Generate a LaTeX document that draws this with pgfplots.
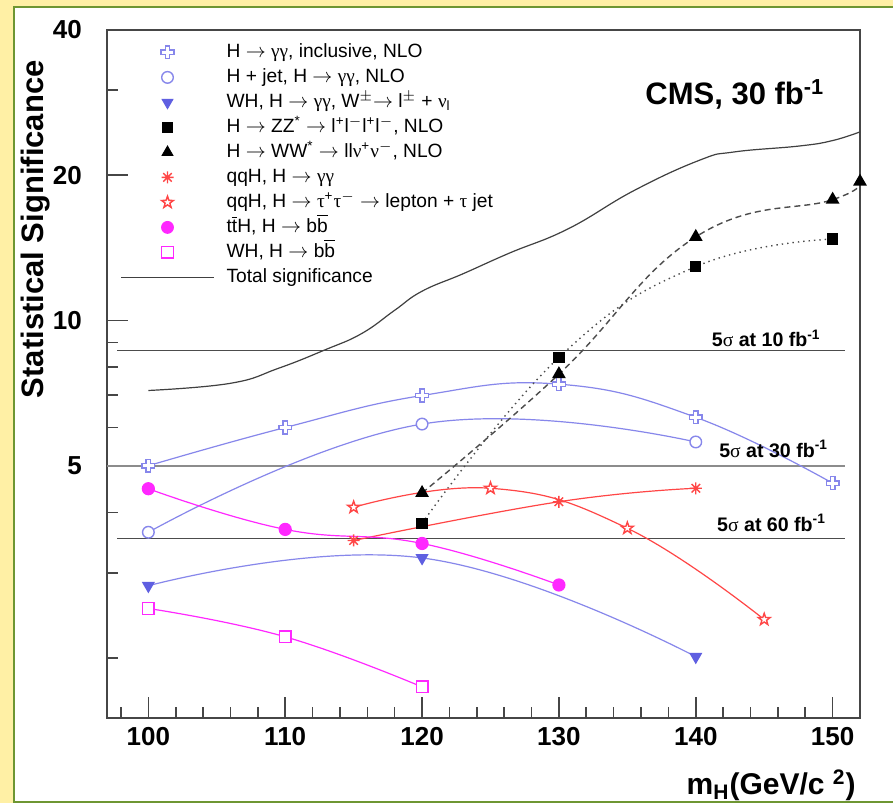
\documentclass[border=0pt]{standalone}
\usepackage{fontspec}
\setmainfont{Liberation Sans}
\newfontfamily\gr{Liberation Serif}
\usepackage{pgfplots}
\pgfplotsset{compat=1.18}
\definecolor{bgyellow}{RGB}{255,240,165}
\definecolor{bggreen}{RGB}{110,150,50}
\definecolor{bluel}{RGB}{135,135,235}
\definecolor{bluem}{RGB}{95,95,225}
\definecolor{redl}{RGB}{255,70,70}
\definecolor{magl}{RGB}{255,40,255}
\definecolor{axgray}{RGB}{70,70,70}
\pgfdeclareplotmark{ocross}{%
  \pgfpathmoveto{\pgfqpoint{-.35\pgfplotmarksize}{\pgfplotmarksize}}%
  \pgfpathlineto{\pgfqpoint{.35\pgfplotmarksize}{\pgfplotmarksize}}%
  \pgfpathlineto{\pgfqpoint{.35\pgfplotmarksize}{.35\pgfplotmarksize}}%
  \pgfpathlineto{\pgfqpoint{\pgfplotmarksize}{.35\pgfplotmarksize}}%
  \pgfpathlineto{\pgfqpoint{\pgfplotmarksize}{-.35\pgfplotmarksize}}%
  \pgfpathlineto{\pgfqpoint{.35\pgfplotmarksize}{-.35\pgfplotmarksize}}%
  \pgfpathlineto{\pgfqpoint{.35\pgfplotmarksize}{-\pgfplotmarksize}}%
  \pgfpathlineto{\pgfqpoint{-.35\pgfplotmarksize}{-\pgfplotmarksize}}%
  \pgfpathlineto{\pgfqpoint{-.35\pgfplotmarksize}{-.35\pgfplotmarksize}}%
  \pgfpathlineto{\pgfqpoint{-\pgfplotmarksize}{-.35\pgfplotmarksize}}%
  \pgfpathlineto{\pgfqpoint{-\pgfplotmarksize}{.35\pgfplotmarksize}}%
  \pgfpathlineto{\pgfqpoint{-.35\pgfplotmarksize}{.35\pgfplotmarksize}}%
  \pgfpathclose\pgfusepathqfillstroke}
\pgfdeclareplotmark{ast8}{%
  \pgfpathmoveto{\pgfqpoint{-\pgfplotmarksize}{0pt}}\pgfpathlineto{\pgfqpoint{\pgfplotmarksize}{0pt}}%
  \pgfpathmoveto{\pgfqpoint{0pt}{-\pgfplotmarksize}}\pgfpathlineto{\pgfqpoint{0pt}{\pgfplotmarksize}}%
  \pgfpathmoveto{\pgfqpoint{-.707\pgfplotmarksize}{-.707\pgfplotmarksize}}\pgfpathlineto{\pgfqpoint{.707\pgfplotmarksize}{.707\pgfplotmarksize}}%
  \pgfpathmoveto{\pgfqpoint{-.707\pgfplotmarksize}{.707\pgfplotmarksize}}\pgfpathlineto{\pgfqpoint{.707\pgfplotmarksize}{-.707\pgfplotmarksize}}%
  \pgfusepathqstroke}
\pgfdeclareplotmark{ostar}{%
  \pgfpathmoveto{\pgfqpoint{0pt}{\pgfplotmarksize}}%
  \pgfpathlineto{\pgfqpoint{.235\pgfplotmarksize}{.324\pgfplotmarksize}}%
  \pgfpathlineto{\pgfqpoint{.951\pgfplotmarksize}{.309\pgfplotmarksize}}%
  \pgfpathlineto{\pgfqpoint{.380\pgfplotmarksize}{-.124\pgfplotmarksize}}%
  \pgfpathlineto{\pgfqpoint{.588\pgfplotmarksize}{-.809\pgfplotmarksize}}%
  \pgfpathlineto{\pgfqpoint{0pt}{-.4\pgfplotmarksize}}%
  \pgfpathlineto{\pgfqpoint{-.588\pgfplotmarksize}{-.809\pgfplotmarksize}}%
  \pgfpathlineto{\pgfqpoint{-.380\pgfplotmarksize}{-.124\pgfplotmarksize}}%
  \pgfpathlineto{\pgfqpoint{-.951\pgfplotmarksize}{.309\pgfplotmarksize}}%
  \pgfpathlineto{\pgfqpoint{-.235\pgfplotmarksize}{.324\pgfplotmarksize}}%
  \pgfpathclose\pgfusepathqfillstroke}
\newcommand{\ar}{$\rightarrow$}
\newcommand{\obar}[1]{$\overline{\hbox{#1}}$}
\begin{document}
\begin{tikzpicture}
\fill[bgyellow] (0,0) rectangle (446.5pt,401.5pt);
\fill[white] (7pt,0.5pt) rectangle (446.5pt,398pt);
\draw[bggreen, line width=0.8pt] (446.5pt,0.5pt) -- (7pt,0.5pt) -- (7pt,398pt) -- (446.5pt,398pt);
\begin{axis}[
  at={(53.65pt,42.5pt)}, anchor=south west,
  scale only axis, width=376.35pt, height=344pt,
  xmin=97, xmax=152, ymode=log, ymin=1.5, ymax=40,
  clip=false,
  axis line style={axgray, line width=0.9pt},
  xtick={100,110,120,130,140,150}, xticklabels={100,110,120,130,140,150},
  minor xtick={98,102,104,106,108,112,114,116,118,122,124,126,128,132,134,136,138,142,144,146,148},
  ytick={5,10,20,40}, yticklabels={5,10,20,40},
  minor ytick={2,3,4,6,7,8,9,30},
  tick align=inside, tick pos=left,
  major tick length=10.5pt, minor tick length=5.5pt,
  every tick/.style={axgray, line width=0.8pt},
  tick label style={font=\fontsize{13}{15}\selectfont\bfseries},
  xticklabel style={inner sep=0pt, yshift=-4.3pt},
  yticklabel style={inner sep=0pt, xshift=-12.5pt},
  xlabel={m\textsubscript{H}(GeV/c \textsuperscript{2})},
  xlabel style={at={(axis description cs:0.9947,-0.1119)}, anchor=base east, inner sep=0pt, font=\fontsize{15}{17}\selectfont\bfseries},
  ylabel={Statistical Significance},
  ylabel style={at={(axis description cs:-0.095,0.9564)}, anchor=east, inner sep=0pt, font=\fontsize{15.5}{17}\selectfont\bfseries},
  legend cell align=left,
  legend image code/.code={\draw[mark repeat=2,mark phase=2,#1] plot coordinates {(0pt,0pt) (23.25pt,0pt) (46.5pt,0pt)};},
  legend style={at={(rel axis cs:0,1)}, anchor=north west, xshift=6.35pt, yshift=-6.5pt,
    draw=none, fill=none, inner sep=0pt, row sep=3.5pt, column sep=6pt,
    font=\fontsize{9.6}{11}\selectfont,
    nodes={inner sep=0pt, text height=7pt, text depth=2pt}},
  every axis plot/.append style={tension=0.75},
]
\addlegendimage{only marks, mark=ocross, mark size=3.2pt, draw=bluel, fill=white, line width=0.7pt}
\addlegendentry{H \ar{} {\gr γγ}, inclusive, NLO}
\addlegendimage{only marks, mark=o, mark size=2.9pt, draw=bluel, fill=white, line width=0.7pt}
\addlegendentry{H + jet, H \ar{} {\gr γγ}, NLO}
\addlegendimage{only marks, mark=triangle*, mark size=3.2pt, color=bluem, mark options={rotate=180}}
\addlegendentry{WH, H \ar{} {\gr γγ}, W\textsuperscript{$\pm$}\ar{} l\textsuperscript{$\pm$} + {\gr ν}\textsubscript{l}}
\addlegendimage{only marks, mark=square*, mark size=2.5pt, color=black}
\addlegendentry{H \ar{} ZZ\textsuperscript{*} \ar{} l\textsuperscript{+}l\textsuperscript{$-$}l\textsuperscript{+}l\textsuperscript{$-$}, NLO}
\addlegendimage{only marks, mark=triangle*, mark size=3.2pt, color=black}
\addlegendentry{H \ar{} WW\textsuperscript{*} \ar{} ll{\gr ν}\textsuperscript{+}{\gr ν}\textsuperscript{$-$}, NLO}
\addlegendimage{only marks, mark=ast8, mark size=3pt, color=redl, line width=0.7pt}
\addlegendentry{qqH, H \ar{} {\gr γγ}}
\addlegendimage{only marks, mark=ostar, mark size=3.1pt, draw=redl, fill=white, line width=0.7pt}
\addlegendentry{qqH, H \ar{} {\gr τ}\textsuperscript{+}{\gr τ}\textsuperscript{$-$} \ar{} lepton + {\gr τ} jet}
\addlegendimage{only marks, mark=*, mark size=3pt, color=magl}
\addlegendentry{t\obar{t}H, H \ar{} b\obar{b}}
\addlegendimage{only marks, mark=square*, mark size=2.9pt, draw=magl, fill=white, line width=0.7pt}
\addlegendentry{WH, H \ar{} b\obar{b}}
\addlegendimage{sharp plot, color=black!75, line width=0.6pt}
\addlegendentry{Total significance}
% horizontal 5 sigma lines
\addplot[black!70, line width=0.7pt, forget plot] coordinates {(97.73,8.66) (150.93,8.66)};
\addplot[black!45, line width=1.1pt, forget plot] coordinates {(97,5) (150.93,5)};
\addplot[black!70, line width=0.7pt, forget plot] coordinates {(97.73,3.536) (150.93,3.536)};
% total significance
\addplot[black!75, line width=0.6pt, smooth, forget plot] coordinates {
(100,7.16) (106,7.41) (109.5,7.96) (112.9,8.69) (115.6,9.4) (118,10.5) (120,11.5) (123,12.5) (126.4,13.8) (130.7,15.5) (135.5,18.6) (140.3,21.5) (142.8,22.35) (147.6,23.0) (150,23.6) (152,24.6)};
% H->gg inclusive
\addplot[bluel, line width=0.6pt, smooth, mark=ocross, mark size=3.2pt, mark options={fill=white, line width=0.7pt}, forget plot] coordinates {
(100,5.0) (110,6.0) (120,6.99) (130,7.38) (140,6.30) (150,4.60)};
% H+jet
\addplot[bluel, line width=0.6pt, smooth, mark=*, mark size=2.9pt, mark options={fill=white, line width=0.7pt}, forget plot] coordinates {
(100,3.64) (120,6.10) (140,5.60)};
% WH gg
\addplot[bluel, line width=0.6pt, smooth, mark=triangle*, mark size=3.2pt, mark options={rotate=180, fill=bluem, draw=bluem}, forget plot] coordinates {
(100,2.82) (120,3.22) (140,2.01)};
% ZZ
\addplot[black!70, line width=0.7pt, dotted, smooth, mark=square*, mark size=2.5pt, mark options={solid, fill=black, draw=black}, forget plot] coordinates {
(120,3.80) (130,8.38) (140,12.93) (150,14.75)};
% WW
\addplot[black!70, line width=0.7pt, dash pattern=on 3pt off 2pt, smooth, mark=triangle*, mark size=3.3pt, mark options={solid, fill=black, draw=black}, forget plot] coordinates {
(120,4.39) (130,7.74) (140,14.9) (150,17.8) (152,19.4)};
% qqH gg
\addplot[redl, line width=0.6pt, smooth, mark=ast8, mark size=3pt, mark options={line width=0.7pt}, forget plot] coordinates {
(115,3.50) (130,4.21) (140,4.49)};
% qqH tautau
\addplot[redl, line width=0.6pt, smooth, mark=ostar, mark size=3.1pt, mark options={fill=white, line width=0.7pt}, forget plot] coordinates {
(115,4.10) (125,4.49) (135,3.71) (145,2.40)};
% ttH bb
\addplot[magl, line width=0.6pt, smooth, mark=*, mark size=3pt, forget plot] coordinates {
(100,4.48) (110,3.69) (120,3.45) (130,2.83)};
% WH bb
\addplot[magl, line width=0.6pt, smooth, mark=square*, mark size=2.9pt, mark options={fill=white, line width=0.7pt}, forget plot] coordinates {
(100,2.53) (110,2.21) (120,1.74)};
% labels
\node[anchor=base west, inner sep=0pt, font=\fontsize{15.5}{17}\selectfont\bfseries] at (axis description cs:0.7144,0.891) {CMS, 30 fb\textsuperscript{-1}};
\node[anchor=base east, inner sep=0pt, font=\fontsize{9.8}{11}\selectfont\bfseries] at (axis cs:149.15,8.83) {5{\gr\mdseries σ} at 10 fb\textsuperscript{-1}};
\node[anchor=base east, inner sep=0pt, font=\fontsize{9.8}{11}\selectfont\bfseries] at (axis cs:149.69,5.21) {5{\gr\mdseries σ} at 30 fb\textsuperscript{-1}};
\node[anchor=base east, inner sep=0pt, font=\fontsize{9.8}{11}\selectfont\bfseries] at (axis cs:149.54,3.66) {5{\gr\mdseries σ} at 60 fb\textsuperscript{-1}};
\end{axis}
\pgfresetboundingbox
\path[use as bounding box] (0,0) rectangle (446.5pt,401.5pt);
\end{tikzpicture}
\end{document}
